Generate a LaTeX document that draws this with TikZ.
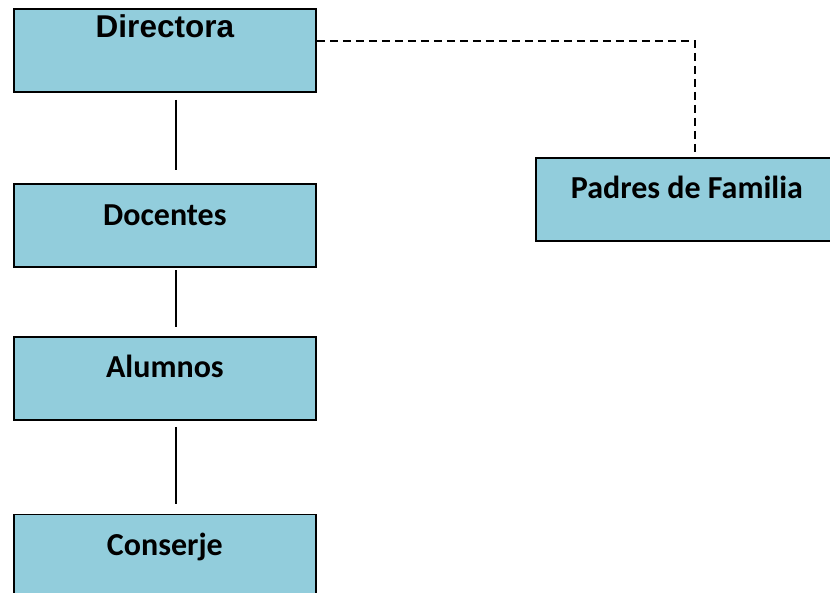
\documentclass[tikz,border=0pt]{standalone}
\usepackage{fontspec}
\setmainfont{Carlito}
\newfontfamily\arialfont{Liberation Sans}
\usepackage{tikz}
\definecolor{cajaazul}{HTML}{92CDDC}

\begin{document}
\begin{tikzpicture}[x=1pt,y=-1pt,
    caja/.style={draw=black,line width=1.8pt,fill=cajaazul,anchor=north west,
      inner sep=0pt,minimum width=302pt,text height=41pt,text depth=42pt,
      font=\fontsize{32}{36}\selectfont\bfseries},
    enlace/.style={line width=1.5pt}]
          \useasboundingbox (0,0) rectangle (830,593);
          \clip (0,0) rectangle (830,593);
          \node[caja,text height=29pt,text depth=54pt,font=\arialfont\fontsize{31.5}{36}\selectfont\bfseries] (dir) at (13,8) {Directora};
          \node[caja] (doc) at (13,183.5) {Docentes};
          \node[caja] (alu) at (13,336) {Alumnos};
          \node[caja] (con) at (13,513.5) {Conserje};
          \node[caja] (pad) at (535,157) {Padres de Familia};
          \draw [enlace,shorten <=7pt,shorten >=13pt] ([xshift=11pt]dir.south) -- ([xshift=11pt]doc.north);
          \draw [enlace,shorten <=2pt,shorten >=9pt] ([xshift=11pt]doc.south) -- ([xshift=11pt]alu.north);
          \draw [enlace,shorten <=6pt,shorten >=10pt] ([xshift=11pt]alu.south) -- ([xshift=11pt]con.north);
          \draw [enlace,line width=2pt,dash pattern=on 8pt off 5pt,shorten >=5pt] ([yshift=9pt]dir.east) -| ([xshift=8.5pt]pad.north);
        \end{tikzpicture}
\end{document}
